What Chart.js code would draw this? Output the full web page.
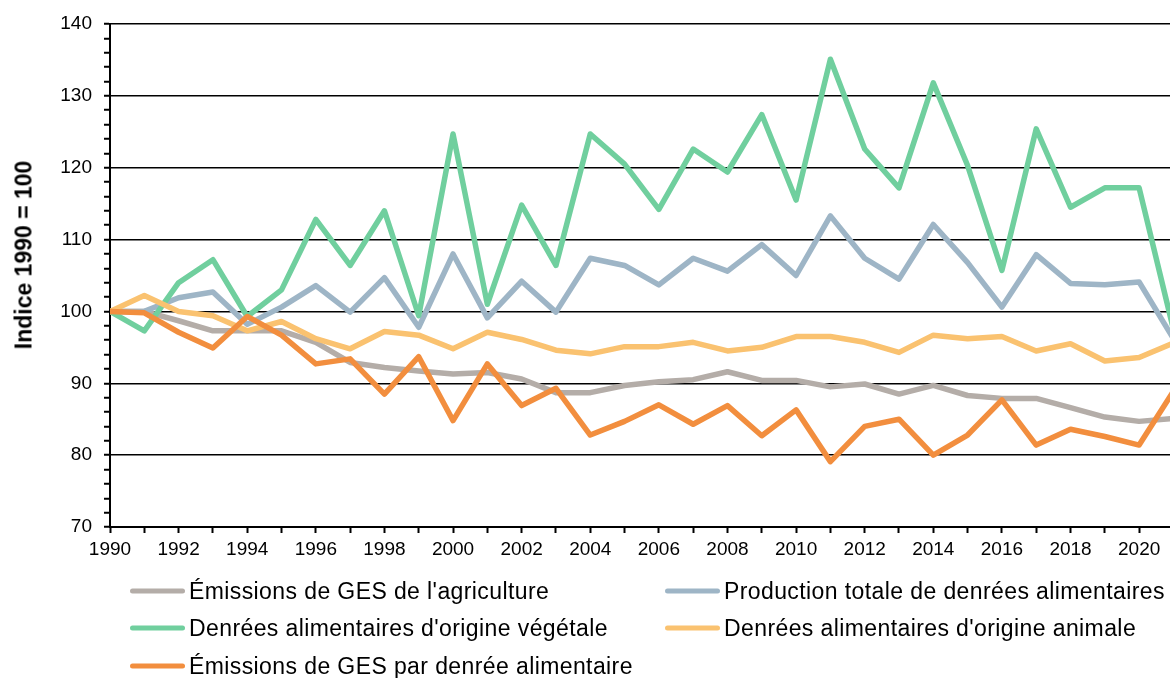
<!DOCTYPE html>
<html>
<head>
<meta charset="utf-8">
<script src="https://cdn.jsdelivr.net/npm/chart.js@4.4.0/dist/chart.umd.min.js"></script>
<style>
  body { margin: 0; background: #fff; }
  #wrap { position: relative; width: 1170px; height: 678px; overflow: hidden; font-family: "Liberation Sans", Arial, sans-serif; color: #000; }
  #chart { position: absolute; left: 0; top: 0; }
  #ytitle { position: absolute; left: 24px; top: 255px; transform: translate(-50%, -50%) rotate(-90deg); font-weight: bold; font-size: 23px; white-space: nowrap; }
  .leg { position: absolute; font-size: 23px; white-space: nowrap; display: flex; align-items: center; transform: translateY(-50%); letter-spacing: 0.4px; }
  .sw { display: inline-block; width: 55px; height: 5px; border-radius: 3px; margin-right: 4px; }
</style>
</head>
<body>
<div id="wrap">
  <canvas id="chart" width="1170" height="678"></canvas>
  <div id="ytitle">Indice 1990 = 100</div>
  <div id="legend"></div>
</div>
<script>
// years 1990 - 2021, index 1990 = 100
const years = [1990, 1991, 1992, 1993, 1994, 1995, 1996, 1997, 1998, 1999, 2000, 2001, 2002, 2003, 2004, 2005,
  2006, 2007, 2008, 2009, 2010, 2011, 2012, 2013, 2014, 2015, 2016, 2017, 2018, 2019, 2020, 2021];

const emissionsAgri = [100, 100, 98.7, 97.3, 97.3, 97.3, 95.7, 92.9, 92.2, 91.7, 91.3, 91.5, 90.6, 88.7, 88.7, 89.7,
  90.2, 90.5, 91.6, 90.4, 90.4, 89.5, 89.9, 88.5, 89.7, 88.3, 87.9, 87.9, 86.6, 85.3, 84.7, 85.1];
const productionTotale = [100, 100, 101.9, 102.7, 98.2, 100.6, 103.6, 99.9, 104.7, 97.8, 108.0, 99.1, 104.2, 99.9, 107.4, 106.4,
  103.7, 107.4, 105.6, 109.3, 105.0, 113.3, 107.4, 104.5, 112.1, 106.8, 100.6, 107.9, 103.9, 103.7, 104.1, 96.2];
const origineVegetale = [100, 97.3, 104.0, 107.2, 99.3, 103.0, 112.8, 106.4, 114.0, 99.4, 124.7, 101.0, 114.8, 106.4, 124.7, 120.5,
  114.2, 122.6, 119.4, 127.4, 115.5, 135.1, 122.6, 117.2, 131.8, 120.3, 105.7, 125.4, 114.5, 117.2, 117.2, 97.5];
const origineAnimale = [100, 102.2, 100, 99.4, 97.3, 98.6, 96.2, 94.8, 97.2, 96.7, 94.8, 97.1, 96.1, 94.6, 94.1, 95.1,
  95.1, 95.7, 94.5, 95.0, 96.5, 96.5, 95.7, 94.3, 96.7, 96.2, 96.5, 94.5, 95.5, 93.1, 93.6, 95.6];
const parDenree = [100, 99.8, 97.1, 94.9, 99.3, 96.7, 92.7, 93.4, 88.5, 93.7, 84.8, 92.7, 86.9, 89.3, 82.8, 84.7,
  87.0, 84.3, 86.9, 82.7, 86.3, 79.1, 84.0, 85.0, 80.0, 82.8, 87.7, 81.4, 83.6, 82.6, 81.4, 88.9];

const series = [
  { label: "Émissions de GES de l'agriculture", data: emissionsAgri, color: "#b4ada8" },
  { label: "Production totale de denrées alimentaires", data: productionTotale, color: "#9eb5c6" },
  { label: "Denrées alimentaires d'origine végétale", data: origineVegetale, color: "#70cf9e" },
  { label: "Denrées alimentaires d'origine animale", data: origineAnimale, color: "#fac270" },
  { label: "Émissions de GES par denrée alimentaire", data: parDenree, color: "#f28e3e" }
];

const datasets = series.map((s, i) => ({
  label: s.label,
  data: s.data.map((v, j) => ({ x: years[j], y: v })),
  borderColor: s.color,
  backgroundColor: s.color,
  borderWidth: 5.5,
  pointRadius: 0,
  tension: 0,
  borderJoinStyle: "round",
  borderCapStyle: "round",
  order: series.length - i
}));

const tickFont = { family: "'Liberation Sans', Arial, sans-serif", size: 19 };

new Chart(document.getElementById("chart"), {
  type: "line",
  data: { datasets: datasets },
  options: {
    responsive: false,
    animation: false,
    layout: { padding: { top: 24, right: 0, bottom: 0, left: 0 } },
    plugins: { legend: { display: false }, tooltip: { enabled: false } },
    scales: {
      x: {
        type: "linear",
        min: 1990,
        max: 2020.9,
        afterFit: (s) => { s.height = 151; },
        border: { color: "#000", width: 2 },
        grid: { color: "rgba(0,0,0,0)", drawOnChartArea: false, tickColor: "#000", tickWidth: 2, tickLength: 6 },
        ticks: {
          stepSize: 1,
          includeBounds: false,
          maxRotation: 0,
          autoSkip: false,
          padding: 5,
          color: "#000",
          font: tickFont,
          callback: (v) => (v % 2 === 0 ? String(v) : "")
        }
      },
      y: {
        min: 70,
        max: 140,
        afterFit: (s) => { s.width = 110; },
        border: { color: "#000", width: 2 },
        grid: {
          color: (c) => (c.tick && c.tick.value % 10 === 0 ? "#000" : "rgba(0,0,0,0)"),
          lineWidth: 1.5,
          tickColor: "#000",
          tickWidth: 2,
          tickLength: 6
        },
        ticks: {
          stepSize: 2,
          autoSkip: false,
          padding: 12,
          color: "#000",
          font: tickFont,
          callback: (v) => (v % 10 === 0 ? String(v) : "")
        }
      }
    }
  }
});

// legend, two columns like the original
const legendPos = [
  { left: 130, top: 591 }, { left: 665, top: 591 },
  { left: 130, top: 628 }, { left: 665, top: 628 },
  { left: 130, top: 666 }
];
const legend = document.getElementById("legend");
series.forEach((s, i) => {
  const item = document.createElement("div");
  item.className = "leg";
  item.style.left = legendPos[i].left + "px";
  item.style.top = legendPos[i].top + "px";
  item.innerHTML = '<span class="sw" style="background:' + s.color + '"></span><span>' + s.label + "</span>";
  legend.appendChild(item);
});
</script>
</body>
</html>
